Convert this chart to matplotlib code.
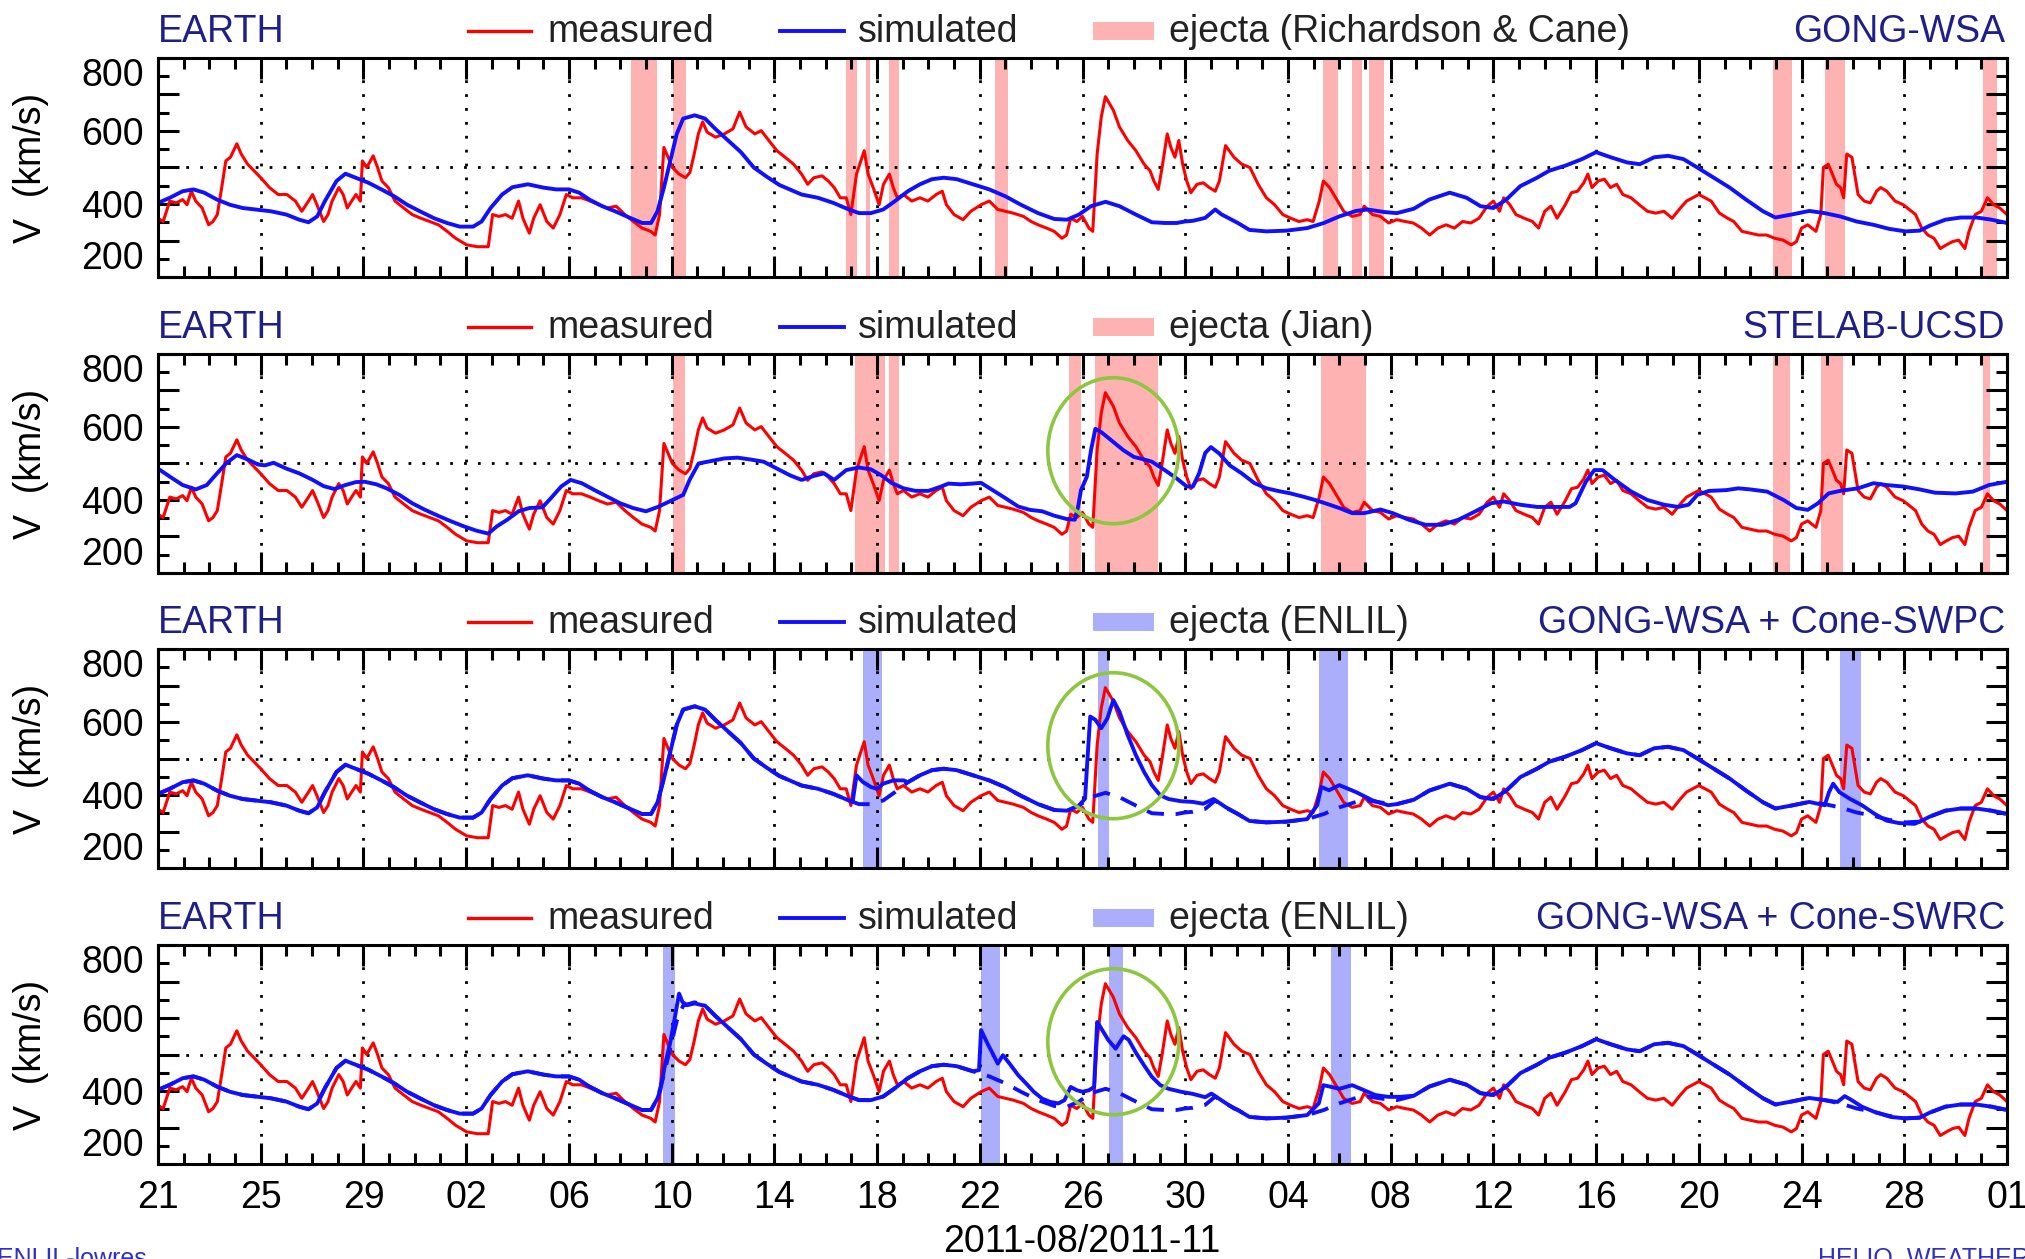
import matplotlib
matplotlib.use('Agg')
import matplotlib.pyplot as plt
from matplotlib.lines import Line2D
from matplotlib.patches import Rectangle, Ellipse
from matplotlib.ticker import MultipleLocator
from datetime import date, timedelta

plt.rcParams['font.family'] = ['Liberation Sans', 'DejaVu Sans']

START = date(2011, 8, 21)
NDAYS = 72
W, H = 2025, 1259

# solar wind speed at Earth (km/s), time in days since 2011-08-21 00 UT
t_meas = [0.00, 0.20, 0.46, 0.71, 0.96, 1.13, 1.30, 1.47, 1.72, 1.97, 2.14, 2.31, 2.48, 2.64, 2.82,
          3.07, 3.24, 3.49, 3.74, 4.00, 4.34, 4.68, 5.02, 5.35, 5.60, 5.86, 6.02, 6.19, 6.45, 6.62,
          6.78, 7.04, 7.21, 7.37, 7.54, 7.71, 7.88, 7.96, 8.13, 8.38, 8.55, 8.72, 8.97, 9.23, 9.57,
          9.90, 10.24, 10.58, 10.92, 11.26, 11.59, 12.02, 12.44, 12.86, 13.03, 13.28, 13.53, 13.79,
          14.04, 14.21, 14.46, 14.63, 14.88, 15.14, 15.39, 15.65, 15.90, 16.15, 16.49, 16.83, 17.16,
          17.50, 17.84, 18.18, 18.51, 18.85, 19.19, 19.36, 19.53, 19.70, 19.86, 20.03, 20.29, 20.54,
          20.71, 20.88, 21.04, 21.21, 21.38, 21.71, 22.05, 22.39, 22.65, 22.90, 23.24, 23.49, 23.83,
          24.10, 24.35, 24.75, 25.06, 25.30, 25.54, 25.86, 26.10, 26.33, 26.57, 26.80, 26.98, 27.20,
          27.50, 27.65, 27.85, 28.08, 28.25, 28.48, 28.63, 28.79, 29.03, 29.35, 29.67, 29.98, 30.30,
          30.54, 30.70, 31.00, 31.35, 31.65, 32.05, 32.37, 32.70, 33.00, 33.30, 33.70, 34.00, 34.27,
          34.60, 34.90, 35.20, 35.38, 35.54, 35.78, 36.00, 36.25, 36.40, 36.57, 36.73, 36.89, 37.05,
          37.20, 37.44, 37.76, 38.08, 38.40, 38.63, 38.78, 38.95, 39.10, 39.30, 39.44, 39.60, 39.75,
          39.90, 40.06, 40.22, 40.46, 40.70, 40.94, 41.17, 41.33, 41.57, 41.90, 42.20, 42.52, 42.84,
          43.16, 43.48, 43.80, 44.11, 44.43, 44.75, 44.98, 45.22, 45.38, 45.62, 45.86, 46.17, 46.50,
          46.81, 46.97, 47.29, 47.60, 47.92, 48.24, 48.56, 48.88, 49.20, 49.52, 49.84, 50.16, 50.48,
          50.80, 51.12, 51.44, 51.76, 52.00, 52.24, 52.40, 52.64, 52.88, 53.20, 53.52, 53.76, 54.00,
          54.24, 54.48, 54.80, 55.04, 55.28, 55.52, 55.68, 55.84, 56.08, 56.32, 56.56, 56.80, 57.04,
          57.36, 57.68, 58.00, 58.32, 58.64, 58.96, 59.28, 59.52, 59.76, 60.00, 60.24, 60.48, 60.80,
          61.12, 61.36, 61.68, 62.00, 62.32, 62.64, 62.96, 63.28, 63.60, 63.80, 64.00, 64.24, 64.56,
          64.75, 64.85, 65.04, 65.20, 65.36, 65.52, 65.64, 65.76, 65.96, 66.20, 66.44, 66.68, 66.92,
          67.08, 67.32, 67.64, 67.96, 68.28, 68.44, 68.68, 68.92, 69.16, 69.40, 69.64, 69.88, 70.12,
          70.36, 70.52, 70.76, 71.00, 71.24, 71.48, 71.72, 72.00]
v_meas = [361, 352, 408, 403, 412, 398, 435, 408, 389, 343, 352, 371, 445, 518, 528,
          565, 537, 509, 491, 472, 445, 426, 426, 408, 380, 408, 426, 398, 352, 371,
          408, 445, 426, 389, 408, 426, 408, 518, 500, 532, 500, 463, 445, 408, 389,
          371, 361, 352, 343, 325, 306, 288, 283, 283, 371, 366, 371, 361,
          408, 361, 320, 361, 398, 352, 334, 371, 426, 417, 417, 408, 398,
          389, 394, 371, 352, 334, 325, 315, 371, 555, 528, 500, 482, 472,
          486, 537, 592, 625, 597, 583, 592, 606, 652, 611, 592, 601, 570,
          546, 532, 509, 482, 454, 472, 477, 463, 445, 417, 417, 371, 482,
          546, 482, 445, 398, 454, 482, 445, 417, 426, 408, 417, 408, 426,
          435, 398, 371, 357, 380, 398, 408, 385, 380, 375, 366, 352, 343,
          334, 325, 306, 315, 361, 352, 366, 334, 325, 537, 638, 694, 675,
          657, 611, 574, 546, 509, 491, 463, 440, 500, 592, 555, 528, 574,
          509, 463, 431, 454, 458, 445, 435, 463, 560, 528, 509, 500, 454,
          417, 398, 371, 361, 352, 357, 352, 408, 463, 445, 417, 380, 366,
          371, 394, 371, 366, 348, 357, 352, 348, 334, 315, 334, 343, 334,
          352, 348, 361, 394, 408, 380, 417, 398, 371, 361, 352, 334, 380,
          394, 361, 398, 431, 435, 458, 482, 445, 463, 468, 445, 454, 426,
          417, 398, 380, 375, 380, 361, 389, 408, 417, 426, 417, 408, 375,
          361, 352, 325, 320, 315, 315, 306, 301, 288, 297, 334, 343, 325,
          371, 500, 509, 482, 454, 445, 417, 537, 528, 426, 408, 403, 435,
          445, 435, 408, 398, 380, 371, 334, 315, 306, 278, 288, 297, 301,
          278, 325, 371, 380, 417, 398, 389, 371]

# GONG-WSA ambient run
t_wsa = [0.00, 0.46, 0.96, 1.38, 1.80, 2.30, 2.80, 3.30, 3.80, 4.40, 5.00, 5.50, 5.86, 6.20, 6.50,
         6.95, 7.30, 7.70, 8.20, 8.70, 9.20, 9.70, 10.20, 10.75, 11.25, 11.75, 12.27, 12.60, 12.95,
         13.40, 13.80, 14.40, 15.00, 15.50, 16.00, 16.40, 16.80, 17.30, 17.80, 18.35, 18.85, 19.20,
         19.45, 19.70, 19.95, 20.20, 20.45, 20.90, 21.30, 21.70, 22.20, 22.70, 23.20, 23.70, 24.20,
         24.60, 25.06, 25.70, 26.30, 26.90, 27.30, 27.76, 28.24, 28.70, 29.20, 29.67, 30.14, 30.60,
         31.10, 31.73, 32.37, 33.00, 33.60, 34.27, 34.90, 35.40, 35.86, 36.33, 36.90, 37.44, 38.08,
         38.70, 39.20, 39.67, 39.98, 40.30, 40.78, 41.17, 41.40, 42.05, 42.50, 43.16, 43.95, 44.75,
         45.40, 46.00, 46.65, 47.10, 47.75, 48.24, 48.90, 49.50, 50.30, 50.96, 51.50, 52.00, 52.50,
         53.05, 53.70, 54.17, 54.80, 55.45, 56.00, 56.57, 57.20, 57.70, 58.26, 58.80, 59.40, 59.94,
         60.58, 61.20, 61.84, 62.50, 62.98, 63.60, 64.30, 64.90, 65.50, 66.15, 66.80, 67.40, 68.05,
         68.60, 69.00, 69.60, 70.20, 70.80, 71.40, 72.00]
v_wsa = [403, 417, 435, 440, 431, 412, 398, 389, 385, 380, 371, 357, 350, 366, 408,
         463, 483, 472, 458, 440, 421, 398, 380, 361, 348, 338, 338, 352, 389,
         426, 446, 454, 445, 440, 440, 431, 412, 394, 380, 363, 348, 348,
         380, 445, 518, 592, 634, 643, 634, 606, 574, 542, 500, 475, 452,
         440, 426, 417, 403, 385, 375, 375, 385, 408, 435, 454, 468, 472,
         468, 454, 440, 421, 398, 375, 359, 357, 371, 394, 406, 394, 371,
         350, 348, 348, 352, 354, 362, 385, 372, 348, 329, 325, 327, 334,
         348, 366, 381, 385, 378, 375, 387, 412, 431, 417, 394, 389, 412,
         449, 472, 491, 505, 523, 542, 528, 514, 509, 528, 532, 523, 500,
         472, 445, 412, 380, 363, 371, 381, 375, 366, 352, 343, 332, 325,
         327, 341, 357, 363, 363, 357, 348]

# STELAB-UCSD tomography run
t_ucsd = [0.00, 0.46, 0.96, 1.47, 1.90, 2.30, 2.65, 3.07, 3.50, 3.90, 4.17, 4.50, 5.00, 5.50, 6.00,
          6.45, 6.87, 7.30, 7.70, 8.05, 8.50, 8.90, 9.40, 9.90, 10.40, 10.90, 11.40, 11.90, 12.40,
          12.86, 13.20, 13.60, 14.04, 14.46, 14.97, 15.30, 15.70, 16.07, 16.50, 17.00, 17.50, 18.00,
          18.50, 19.00, 19.50, 20.03, 20.45, 20.70, 21.05, 21.55, 22.06, 22.57, 23.07, 23.58, 24.10,
          24.60, 25.06, 25.54, 25.94, 26.33, 26.80, 27.29, 27.76, 28.16, 28.56, 29.03, 29.50, 30.00,
          30.46, 30.78, 31.25, 31.73, 32.05, 32.50, 33.00, 33.50, 33.95, 34.43, 34.90, 35.38, 35.70,
          35.83, 35.94, 36.17, 36.33, 36.50, 36.73, 37.13, 37.60, 38.00, 38.40, 38.70, 39.20, 39.67,
          40.06, 40.30, 40.54, 40.78, 41.00, 41.33, 41.73, 42.20, 42.70, 43.16, 43.60, 44.10, 44.60,
          45.06, 45.54, 46.00, 46.50, 46.97, 47.60, 48.08, 48.70, 49.36, 50.00, 50.64, 51.30, 51.90,
          52.40, 53.05, 53.70, 54.33, 54.97, 55.20, 55.60, 55.93, 56.25, 56.73, 57.37, 58.00, 58.65,
          59.20, 59.60, 59.94, 60.40, 61.06, 61.54, 62.00, 62.66, 63.30, 63.80, 64.24, 64.64, 65.05,
          65.50, 66.20, 66.80, 67.30, 67.95, 68.60, 69.20, 70.00, 70.67, 71.30, 72.00]
v_ucsd = [486, 464, 441, 429, 441, 473, 500, 523, 511, 497, 495, 502, 486, 473, 456,
          438, 430, 441, 449, 450, 443, 432, 414, 391, 373, 357, 342, 328, 316,
          308, 328, 346, 369, 378, 380, 405, 437, 455, 446, 427, 409, 391,
          378, 369, 382, 400, 414, 455, 500, 507, 514, 516, 511, 505, 486,
          468, 455, 466, 473, 455, 482, 489, 484, 468, 447, 432, 425, 425,
          436, 445, 443, 445, 447, 427, 405, 382, 373, 369, 357, 348, 346,
          382, 427, 464, 536, 595, 586, 563, 536, 518, 511, 505, 482, 459,
          437, 437, 473, 529, 545, 527, 495, 473, 446, 432, 425, 418, 409,
          400, 389, 378, 364, 364, 374, 364, 346, 332, 332, 346, 369, 391,
          396, 387, 381, 381, 381, 391, 450, 482, 482, 455, 423, 400, 387,
          381, 387, 414, 425, 427, 432, 429, 423, 400, 378, 373, 391, 418,
          425, 432, 446, 441, 437, 429, 420, 418, 423, 441, 450]

# WSA + cone (SWPC): intervals where the CME run departs from the ambient run
swpc_t = [[27.05, 27.20, 27.44, 27.76, 28.00, 28.24, 28.63, 29.03],
          [36.10, 36.17, 36.30, 36.50, 36.73, 36.97, 37.20, 37.44, 37.76, 38.08, 38.40, 38.70,
           39.03, 39.35, 39.83, 40.30, 40.70, 41.10, 41.57],
          [45.14, 45.30, 45.60, 46.00, 46.65, 47.30, 47.90],
          [64.90, 65.07, 65.23, 65.47, 65.87, 66.35, 66.83, 67.30, 67.80, 68.40]]
swpc_v = [[381, 454, 436, 422, 417, 431, 440, 440],
          [390, 472, 615, 606, 583, 610, 660, 628, 564, 509, 463, 427,
           399, 389, 383, 381, 376, 389, 367],
          [372, 422, 413, 427, 408, 385, 372],
          [372, 408, 431, 408, 390, 372, 349, 330, 323, 321]]

# WSA + cone (SWRC)
swrc_t = [[19.56, 19.75, 19.94, 20.13, 20.29, 20.42, 20.60, 20.90, 21.20],
          [31.97, 32.05, 32.30, 32.50, 32.70, 32.90, 33.16, 33.50, 33.80, 34.10, 34.43, 34.75,
           35.06, 35.30, 35.54, 35.78, 36.00, 36.25, 36.45, 36.57, 36.70, 37.00, 37.29, 37.60,
           37.80, 38.08, 38.40, 38.70, 39.03, 39.35, 39.83, 40.30, 40.78, 41.02, 41.40, 41.90],
          [45.20, 45.38, 45.70, 46.00, 46.50, 46.97, 47.40, 47.90, 48.37],
          [64.90, 65.40, 65.68, 65.95, 66.35, 66.83, 67.47]]
swrc_v = [[402, 475, 530, 603, 667, 644, 635, 640, 635],
          [457, 567, 530, 503, 475, 498, 475, 443, 421, 398, 379, 370,
           366, 375, 411, 402, 398, 402, 411, 589, 575, 540, 516, 550,
           540, 505, 470, 439, 416, 406, 398, 392, 383, 393, 375, 352],
          [366, 416, 411, 406, 416, 402, 389, 384, 384],
          [375, 370, 386, 375, 357, 343, 329]]

# ejecta intervals (start, end) in days
ejecta_rc = [(18.43, 19.44), (20.07, 20.57), (26.78, 27.20), (27.57, 27.73), (28.48, 28.87),
             (32.60, 33.08), (45.38, 45.94), (46.50, 46.90), (47.17, 47.75), (62.90, 63.62),
             (64.90, 65.68), (71.07, 71.63)]
ejecta_jian = [(20.07, 20.54), (27.13, 28.32), (28.48, 28.84), (35.46, 35.94), (36.49, 38.95),
               (45.30, 47.05), (62.90, 63.54), (64.75, 65.63), (71.07, 71.35)]
ejecta_swpc = [(27.44, 28.20), (36.62, 37.05), (45.20, 46.33), (65.50, 66.30)]
ejecta_swrc = [(19.65, 20.13), (32.05, 32.80), (37.05, 37.57), (45.67, 46.46)]

RED = '#ff0000'
BLUE = '#1010ff'
NAVY = '#1f1f8a'
PINK = '#ffb2b2'
LILAC = '#abaefa'
GREEN = '#8dc63f'


def splice(t_base, v_base, seg_t, seg_v):
    pts = list(zip(t_base, v_base))
    for ts, vs in zip(seg_t, seg_v):
        pts = [p for p in pts if p[0] < ts[0] or p[0] > ts[-1]] + list(zip(ts, vs))
        pts.sort()
    return [p[0] for p in pts], [p[1] for p in pts]


t_swpc, v_swpc = splice(t_wsa, v_wsa, swpc_t, swpc_v)
t_swrc, v_swrc = splice(t_wsa, v_wsa, swrc_t, swrc_v)

panels = [
    dict(model='GONG-WSA', ej_label='ejecta (Richardson & Cane)', ej_color=PINK,
         ejecta=ejecta_rc, sim=(t_wsa, v_wsa), ambient=False, circle=False),
    dict(model='STELAB-UCSD', ej_label='ejecta (Jian)', ej_color=PINK,
         ejecta=ejecta_jian, sim=(t_ucsd, v_ucsd), ambient=False, circle=True),
    dict(model='GONG-WSA + Cone-SWPC', ej_label='ejecta (ENLIL)', ej_color=LILAC,
         ejecta=ejecta_swpc, sim=(t_swpc, v_swpc), ambient=True, circle=True),
    dict(model='GONG-WSA + Cone-SWRC', ej_label='ejecta (ENLIL)', ej_color=LILAC,
         ejecta=ejecta_swrc, sim=(t_swrc, v_swrc), ambient=True, circle=True),
]

fig = plt.figure(figsize=(W / 100, H / 100), dpi=100)


def fx(px):
    return px / W


def fy(py):
    return 1 - py / H


tops = [58, 354, 649, 945]
ph = 219
left, right = 158, 2007
fs = 27
tick_days = list(range(0, NDAYS + 1, 4))
tick_labels = [(START + timedelta(days=k)).strftime('%d') for k in tick_days]

for i, (p, top) in enumerate(zip(panels, tops)):
    ax = fig.add_axes([fx(left), fy(top + ph), fx(right - left), ph / H])
    ax.set_xlim(0, NDAYS)
    ax.set_ylim(200, 800)

    for a, b in p['ejecta']:
        ax.axvspan(a, b, color=p['ej_color'], lw=0, zorder=1)

    ax.set_axisbelow('line')
    ax.grid(axis='x', which='major', color='black', lw=2.0, ls=(0, (1, 4)))
    ax.axhline(500, color='black', lw=2.0, ls=(0, (1, 4)), zorder=1.5)

    ax.plot(t_meas, v_meas, color=RED, lw=2.2, zorder=2)
    if p['ambient']:
        ax.plot(t_wsa, v_wsa, color=BLUE, lw=2.8, dashes=(4.5, 3), zorder=2.5)
    ax.plot(p['sim'][0], p['sim'][1], color=BLUE, lw=2.8, zorder=3)

    if p['circle']:
        ax.add_patch(Ellipse((37.2, 535), 5.1, 400, fill=False, ec=GREEN, lw=2.6, zorder=4))

    # axes styling
    for s in ax.spines.values():
        s.set_linewidth(2.2)
        s.set_zorder(5)
    ax.set_xticks(tick_days)
    ax.xaxis.set_minor_locator(MultipleLocator(1))
    ax.set_yticks(range(200, 801, 100))
    ax.set_yticklabels(['200', '', '400', '', '600', '', '800'])
    ax.yaxis.set_minor_locator(MultipleLocator(50))
    ax.tick_params(which='both', direction='in', top=True, right=True, width=2.2,
                   labelsize=fs, colors='black')
    ax.tick_params(which='major', length=15)
    ax.tick_params(which='minor', length=8)
    ax.tick_params(axis='y', pad=10)
    ax.tick_params(axis='x', pad=11.5)
    yt = ax.yaxis.get_major_ticks()
    yt[0].label1.set_verticalalignment('bottom')
    yt[-1].label1.set_verticalalignment('top')
    if i == len(panels) - 1:
        ax.set_xticklabels(tick_labels)
    else:
        ax.set_xticklabels([])

    # header line with legend
    base = fy(top - 16)
    mid = fy(top - 27)
    fig.text(fx(158), base, 'EARTH', color=NAVY, fontsize=fs, va='baseline', ha='left')
    fig.add_artist(Line2D([fx(468), fx(531)], [mid, mid], color=RED, lw=2.4))
    fig.text(fx(547), base, 'measured', color='#222222', fontsize=fs, va='baseline')
    fig.add_artist(Line2D([fx(780), fx(844)], [mid, mid], color=BLUE, lw=2.8))
    fig.text(fx(858), base, 'simulated', color='#222222', fontsize=fs, va='baseline')
    fig.add_artist(Rectangle((fx(1093), fy(top - 18)), fx(1154 - 1093), 18 / H,
                             transform=fig.transFigure, color=p['ej_color'], lw=0))
    fig.text(fx(1169), base, p['ej_label'], color='#222222', fontsize=fs, va='baseline')
    fig.text(fx(2005), base, p['model'], color=NAVY, fontsize=fs, va='baseline', ha='right')

    fig.text(fx(31), fy(top + ph / 2), 'V  (km/s)', rotation=90, fontsize=fs,
             ha='center', va='center')

fig.text(fx(1082), fy(1252), '2011-08/2011-11', fontsize=fs, ha='center', va='baseline')
# footer labels sit on the lower edge of the page, partly outside it
fig.text(fx(-3), fy(1266), 'ENLIL-lowres', color='#2e2ec8', fontsize=18, va='baseline')
fig.text(fx(1818), fy(1266), 'HELIO_WEATHER', color='#2e2ec8', fontsize=18, va='baseline')

fig.savefig('out.png', dpi=100)
